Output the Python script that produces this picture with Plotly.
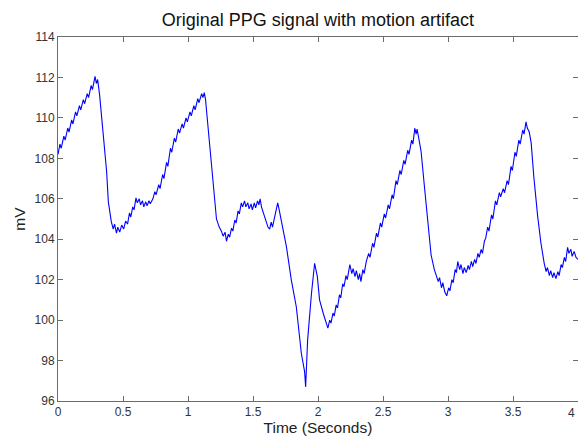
import plotly.graph_objects as go

# Time (s) / PPG amplitude (mV), one pair of lists per stretch
t_rise1 = [0.0, 0.015, 0.025, 0.045, 0.055, 0.075, 0.085, 0.105, 0.115, 0.135,
           0.145, 0.165, 0.175, 0.195, 0.205, 0.225, 0.235, 0.255, 0.265, 0.285,
           0.295, 0.305, 0.32, 0.34, 0.36, 0.374, 0.387]
v_rise1 = [108.2, 108.7, 108.5, 109.1, 108.9, 109.5, 109.3, 109.9, 109.7, 110.3,
           110.1, 110.6, 110.4, 110.9, 110.7, 111.2, 111.0, 111.6, 111.4, 112.05,
           111.7, 111.9, 111.14, 109.8, 108.5, 107.35, 105.86]

t_trough1 = [0.41, 0.425, 0.435, 0.45, 0.46, 0.475, 0.49, 0.505, 0.52, 0.535,
             0.55, 0.56, 0.575, 0.585, 0.60, 0.61, 0.625, 0.635, 0.65, 0.66,
             0.675, 0.685, 0.70, 0.71, 0.73]
v_trough1 = [104.87, 104.5, 104.75, 104.3, 104.6, 104.35, 104.7, 104.5, 104.9, 104.75,
             105.3, 105.1, 105.6, 105.45, 106.05, 105.8, 106.0, 105.7, 105.9, 105.6,
             105.85, 105.65, 105.9, 105.75, 106.0]

t_rise2 = [0.745, 0.755, 0.775, 0.785, 0.805, 0.815, 0.835, 0.845, 0.865, 0.875,
           0.895, 0.905, 0.925, 0.935, 0.955, 0.965, 0.985, 0.995, 1.015, 1.025,
           1.045, 1.055, 1.075, 1.085, 1.105, 1.115, 1.125, 1.135, 1.142, 1.167,
           1.193, 1.219]
v_rise2 = [106.35, 106.2, 106.7, 106.5, 107.2, 107.0, 107.8, 107.6, 108.5, 108.3,
           109.0, 108.8, 109.45, 109.25, 109.7, 109.5, 110.0, 109.8, 110.3, 110.1,
           110.6, 110.4, 110.95, 110.75, 111.2, 111.0, 111.25, 110.9, 110.4, 108.58,
           106.6, 105.0]

t_trough2 = [1.24, 1.257, 1.27, 1.285, 1.296, 1.31, 1.32, 1.335, 1.345, 1.36,
             1.37, 1.385, 1.395, 1.41, 1.42, 1.435, 1.445, 1.46, 1.47, 1.485,
             1.495, 1.51, 1.52, 1.535, 1.545, 1.555, 1.565, 1.58, 1.59, 1.605,
             1.615, 1.628, 1.64, 1.65, 1.665, 1.68, 1.69, 1.70, 1.72]
v_trough2 = [104.6, 104.4, 104.15, 104.35, 103.9, 104.25, 104.1, 104.55, 104.4, 104.95,
             104.8, 105.4, 105.25, 105.8, 105.6, 105.9, 105.6, 105.8, 105.5, 105.75,
             105.45, 105.8, 105.55, 105.9, 105.7, 106.0, 105.6, 105.3, 105.1, 104.9,
             104.6, 104.5, 104.85, 104.6, 105.1, 105.6, 105.8, 105.5, 104.8]

t_artifact = [1.757, 1.795, 1.833, 1.872, 1.897, 1.905, 1.92, 1.95, 1.974, 1.995,
              2.012, 2.04, 2.06, 2.076, 2.09, 2.10, 2.115, 2.125, 2.14, 2.15,
              2.165, 2.175, 2.19, 2.2, 2.215, 2.225, 2.245, 2.26, 2.27, 2.285,
              2.295, 2.31, 2.32, 2.33, 2.345, 2.355, 2.371]
v_artifact = [103.63, 101.98, 100.66, 98.35, 97.45, 96.7, 99.0, 101.33, 102.81, 102.15,
              101.0, 100.34, 99.9, 99.6, 100.0, 99.85, 100.35, 100.2, 100.75, 100.6,
              101.25, 101.1, 101.8, 101.65, 102.2, 102.0, 102.75, 102.3, 102.55, 102.15,
              102.45, 102.0, 102.3, 101.9, 102.5, 102.3, 102.89]

t_rise3 = [2.39, 2.40, 2.42, 2.43, 2.45, 2.46, 2.48, 2.49, 2.51, 2.52,
           2.54, 2.55, 2.57, 2.58, 2.60, 2.61, 2.63, 2.64, 2.66, 2.67,
           2.69, 2.70, 2.72, 2.73, 2.745, 2.755, 2.762, 2.775, 2.793, 2.82,
           2.845, 2.87, 2.895, 2.909]
v_rise3 = [103.3, 103.1, 103.8, 103.6, 104.3, 104.1, 104.8, 104.6, 105.25, 105.05,
           105.7, 105.5, 106.2, 106.0, 106.9, 106.7, 107.4, 107.2, 107.9, 107.7,
           108.4, 108.2, 108.9, 108.7, 109.5, 109.2, 109.45, 109.0, 108.34, 106.52,
           104.71, 103.22, 102.5, 102.23]

t_trough3 = [2.925, 2.935, 2.95, 2.96, 2.975, 2.99, 3.005, 3.015, 3.03, 3.04,
             3.055, 3.065, 3.075, 3.09, 3.10, 3.115, 3.125, 3.14, 3.155, 3.165,
             3.18, 3.19, 3.205, 3.215, 3.23, 3.24, 3.255, 3.265, 3.28, 3.29]
v_trough3 = [101.9, 102.1, 101.6, 101.85, 101.4, 101.2, 101.6, 101.45, 102.0, 101.85,
             102.5, 102.35, 102.9, 102.5, 102.75, 102.3, 102.6, 102.35, 102.7, 102.5,
             102.9, 102.65, 103.0, 102.8, 103.3, 103.1, 103.5, 103.3, 103.9, 104.05]

t_rise4 = [3.305, 3.315, 3.335, 3.345, 3.365, 3.375, 3.395, 3.405, 3.425, 3.435,
           3.455, 3.465, 3.485, 3.495, 3.515, 3.525, 3.545, 3.555, 3.575, 3.585,
           3.60, 3.61, 3.625, 3.64, 3.66, 3.69, 3.715, 3.74]
v_rise4 = [104.6, 104.4, 105.2, 105.0, 105.9, 105.7, 106.3, 106.1, 106.5, 106.3,
           106.9, 106.7, 107.6, 107.4, 108.3, 108.1, 108.9, 108.7, 109.4, 109.2,
           109.8, 109.5, 109.3, 108.75, 107.1, 105.12, 103.8, 102.81]

t_tail = [3.755, 3.765, 3.78, 3.79, 3.805, 3.815, 3.83, 3.845, 3.855, 3.87,
          3.88, 3.895, 3.905, 3.92, 3.93, 3.945, 3.955, 3.97, 3.985, 4.0]
v_tail = [102.4, 102.6, 102.2, 102.45, 102.1, 102.35, 102.05, 102.4, 102.2, 102.75,
          102.6, 103.1, 102.9, 103.6, 103.3, 103.5, 103.15, 103.4, 103.1, 103.0]

x_ticks = [0, 0.5, 1, 1.5, 2, 2.5, 3, 3.5]
x_tick_text = ["0", "0.5", "1", "1.5", "2", "2.5", "3", "3.5"]
y_ticks = [96, 98, 100, 102, 104, 106, 108, 110, 112, 114]

time_s = (t_rise1 + t_trough1 + t_rise2 + t_trough2 + t_artifact
          + t_rise3 + t_trough3 + t_rise4 + t_tail)
ppg_mv = (v_rise1 + v_trough1 + v_rise2 + v_trough2 + v_artifact
          + v_rise3 + v_trough3 + v_rise4 + v_tail)

fig = go.Figure()
fig.add_trace(go.Scatter(x=time_s, y=ppg_mv, mode="lines",
                         line=dict(color="#0000ff", width=1.1), showlegend=False))

font_family = "Liberation Sans, Arial, sans-serif"
axis_common = dict(showline=True, linecolor="#6b6b6b", linewidth=1, mirror="ticks",
                   ticks="inside", ticklen=5, tickcolor="#6b6b6b", showgrid=False,
                   zeroline=False, tickfont=dict(family=font_family, size=12, color="#333333"))

fig.update_layout(
    width=578, height=443,
    margin=dict(l=58, r=0, t=37, b=42),
    paper_bgcolor="white", plot_bgcolor="white",
    title=dict(text="Original PPG signal with motion artifact", x=0.55, xanchor="center",
               y=0.955, yanchor="middle",
               font=dict(family=font_family, size=18, color="#111111")),
    xaxis=dict(range=[0, 4], tickvals=x_ticks + [4], ticktext=x_tick_text + [""],
               title=dict(text="Time (Seconds)", standoff=3,
                          font=dict(family=font_family, size=15.5, color="#222222")),
               **axis_common),
    yaxis=dict(range=[96, 114], tickvals=y_ticks,
               title=dict(text="mV", standoff=5,
                          font=dict(family=font_family, size=15.5, color="#222222")),
               **axis_common),
    annotations=[dict(text="4", x=4, xref="x", y=0, yref="paper", xanchor="right",
                      yanchor="top", yshift=-3, xshift=-1, showarrow=False,
                      font=dict(family=font_family, size=12, color="#333333"))],
)

fig.write_html("out.html")
